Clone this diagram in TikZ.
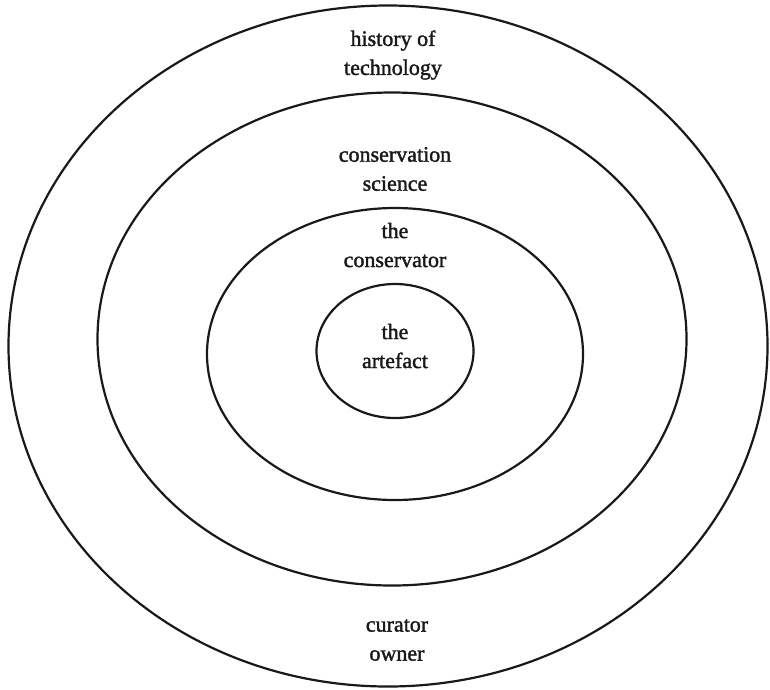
\documentclass[tikz,border=0pt]{standalone}
\usepackage{fontspec}
\setmainfont{Liberation Serif}[FakeBold=1.6]
\usetikzlibrary{shapes.geometric}
\begin{document}
\begin{tikzpicture}[x=1pt,y=-1pt,
  ring/.style={draw=black!90, line width=2.2pt, ellipse, inner sep=0pt, outer sep=0pt},
  lbl/.style={font=\fontsize{22}{29}\selectfont, align=center, inner sep=0pt, text=black!90}]
\useasboundingbox (0,0) rectangle (770,689);
\node[ring, minimum width=759pt, minimum height=681pt] (outer) at (388,346) {};
\node[ring, minimum width=589pt, minimum height=493pt] (second) at (392,339) {};
\node[ring, minimum width=376pt, minimum height=292pt] (third) at (395,354) {};
\node[ring, minimum width=157pt, minimum height=134pt] (inner) at (395,351) {};
\node[lbl] (hist) at (393,55) {history of\\technology};
\node[lbl] (sci) at (395,169) {conservation\\science};
\node[lbl] (cons) at (395,245) {the\\conservator};
\node[lbl] (art) at (395,346) {the\\artefact};
\node[lbl] (cur) at (397,640) {curator\\owner};
\end{tikzpicture}
\end{document}
